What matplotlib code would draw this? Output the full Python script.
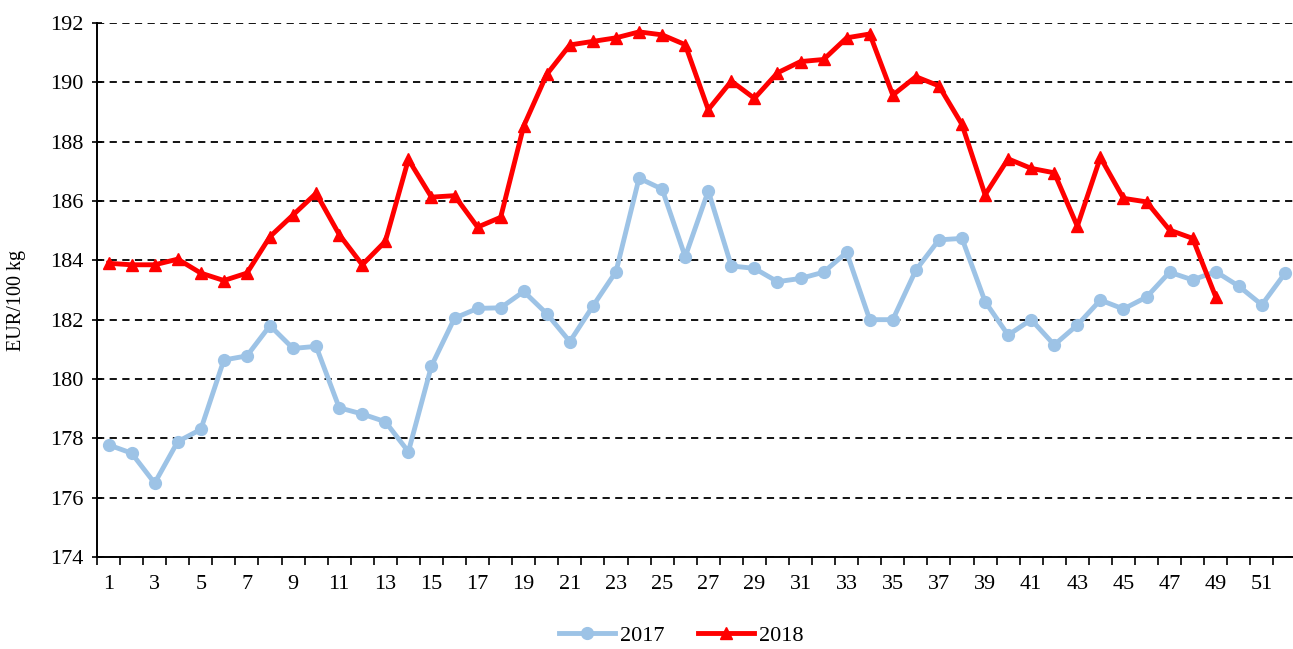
import matplotlib
matplotlib.use("Agg")
import matplotlib.pyplot as plt
from matplotlib.ticker import FixedLocator, NullFormatter

weeks = list(range(1, 53))
s2017 = [177.78, 177.5, 176.49, 177.89, 178.3, 180.64, 180.78, 181.8, 181.03, 181.1,
         179.03, 178.82, 178.56, 177.55, 180.44, 182.05, 182.38, 182.4, 182.95, 182.2,
         181.26, 182.46, 183.62, 186.77, 186.4, 184.12, 186.34, 183.81, 183.73, 183.28,
         183.39, 183.6, 184.27, 182.0, 182.0, 183.67, 184.69, 184.74, 182.61, 181.48,
         182.0, 181.15, 181.82, 182.66, 182.36, 182.76, 183.6, 183.34, 183.62, 183.13,
         182.5, 183.56]
weeks2018 = list(range(1, 50))
s2018 = [183.9, 183.85, 183.85, 184.04, 183.57, 183.32, 183.57, 184.8, 185.53, 186.26,
         184.87, 183.85, 184.64, 187.4, 186.13, 186.18, 185.12, 185.45, 188.53, 190.27,
         191.26, 191.38, 191.5, 191.7, 191.6, 191.27, 189.08, 190.04, 189.46, 190.32,
         190.7, 190.77, 191.5, 191.63, 189.57, 190.19, 189.88, 188.58, 186.21, 187.42,
         187.1, 186.95, 185.15, 187.47, 186.09, 185.97, 185.02, 184.74, 182.77]
labels = ["2017", "2018"]

plt.rcParams['font.family'] = ['Liberation Serif', 'DejaVu Serif']

fig = plt.figure(figsize=(12.93, 6.49), dpi=100)
ax = fig.add_axes([97/1293, 92/649, 1 - 97/1293, (557-23)/649])

ax.plot(weeks, s2017, color='#9DC3E6', lw=3.5, marker='o', markersize=8.5,
        label=labels[0], zorder=3)
ax.plot(weeks2018, s2018, color='#FF0000', lw=3.5, marker='^', markersize=9,
        label=labels[1], zorder=4)

ax.set_ylim(174, 192)
ax.set_xlim(0.5, 52.35)
ax.set_yticks(range(174, 193, 2))
ax.yaxis.grid(True, linestyle=(0, (4, 3)), color='black', lw=1.3)
ax.set_axisbelow(True)

ax.set_xticks(range(1, 53, 2))
ax.set_xticklabels([str(w) for w in range(1, 53, 2)])
ax.tick_params(axis='x', which='major', length=0, pad=13, labelsize=16)
ax.xaxis.set_minor_locator(FixedLocator([w + 0.5 for w in range(0, 53)]))
ax.xaxis.set_minor_formatter(NullFormatter())
ax.tick_params(axis='x', which='minor', length=6, width=1.2, direction='out')
ax.tick_params(axis='y', length=7, width=1.2, direction='inout', labelsize=16, pad=6)

for s in ['top', 'right']:
    ax.spines[s].set_visible(False)
for s in ['left', 'bottom']:
    ax.spines[s].set_linewidth(1.4)

ax.set_ylabel("EUR/100 kg", fontsize=14.5)
ax.yaxis.set_label_coords(-0.059, 0.48)

fig.legend(loc='center', bbox_to_anchor=(0.527, 0.021), ncol=2, frameon=False,
           fontsize=16, handlelength=2.5, columnspacing=1.5, handletextpad=0.25)

fig.savefig("out.png", dpi=100)
